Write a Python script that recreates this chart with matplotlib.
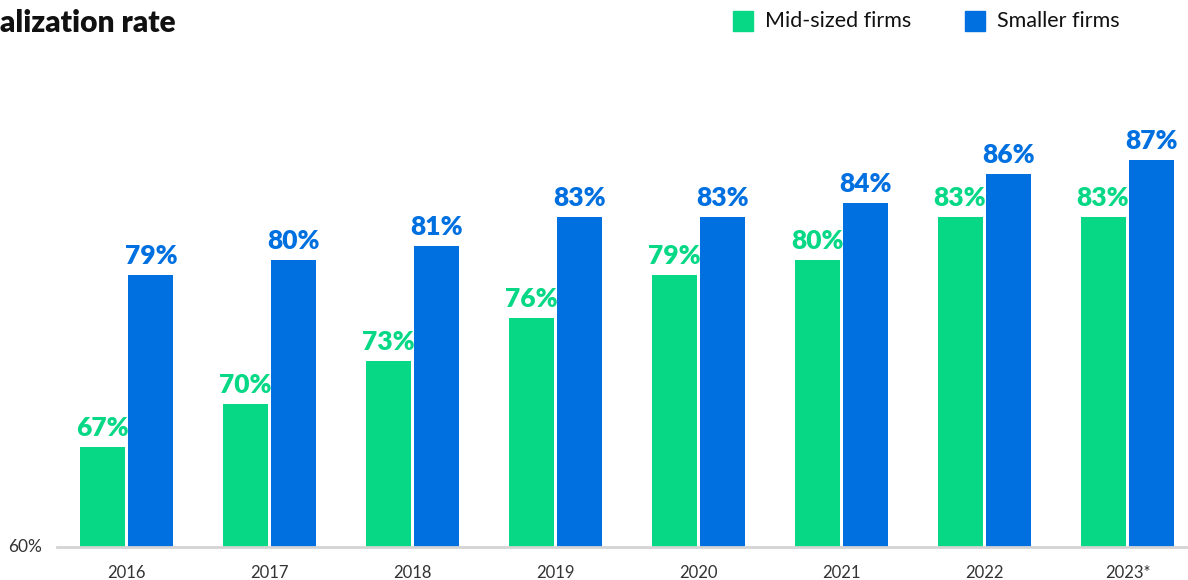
import matplotlib.pyplot as plt
import numpy as np

years = ['2016', '2017', '2018', '2019', '2020', '2021', '2022', '2023*']
mid_sized = [67, 70, 73, 76, 79, 80, 83, 83]
smaller = [79, 80, 81, 83, 83, 84, 86, 87]

GREEN = '#06D886'
BLUE = '#0070E0'
plt.rcParams['font.family'] = ['Lato', 'DejaVu Sans']

fig = plt.figure(figsize=(11.88, 5.8), dpi=100)
ax = fig.add_axes([57 / 1188, 33 / 580, 1 - 57 / 1188, 547 / 580])

x = np.arange(len(years))
w = 0.315
off = 0.171
b1 = ax.bar(x - off, [v - 60 for v in mid_sized], w, bottom=60, color=GREEN)
b2 = ax.bar(x + off, [v - 60 for v in smaller], w, bottom=60, color=BLUE)

for xi, v in zip(x, mid_sized):
    ax.text(xi - off, v + 0.5, f'{v}%', ha='center', va='bottom',
            color=GREEN, fontsize=19, fontweight='heavy')
for xi, v in zip(x, smaller):
    ax.text(xi + off, v + 0.5, f'{v}%', ha='center', va='bottom',
            color=BLUE, fontsize=19, fontweight='heavy')

ax.set_xlim(-0.486, 7.423)
ax.set_ylim(60, 60 + 547 / 14.33)
ax.set_xticks(x)
ax.set_xticklabels(years, fontsize=12, color='#333333')
ax.tick_params(axis='x', length=0, pad=13)
ax.set_yticks([])
for s in ['top', 'right', 'left']:
    ax.spines[s].set_visible(False)
ax.spines['bottom'].set_color('#D4D4D4')
ax.spines['bottom'].set_linewidth(2)

fig.text(8 / 1188, 1 - 547 / 580, '60%', ha='left', va='center',
         fontsize=12.5, color='#333333')

# title cut at the left edge
fig.text(0, 1 - 23 / 580, 'alization rate', ha='left', va='center',
         fontsize=21.5, fontweight='heavy', color='#111111')

# legend
for sx, label, c in [(733, 'Mid-sized firms', GREEN), (965, 'Smaller firms', BLUE)]:
    fig.patches.append(plt.Rectangle((sx / 1188, 1 - 31 / 580), 20 / 1188, 20 / 580,
                                     transform=fig.transFigure, color=c))
    fig.text((sx + 32) / 1188, 1 - 21 / 580, label, ha='left', va='center',
             fontsize=15.5, color='#111111')

fig.savefig('out.png', dpi=100)
